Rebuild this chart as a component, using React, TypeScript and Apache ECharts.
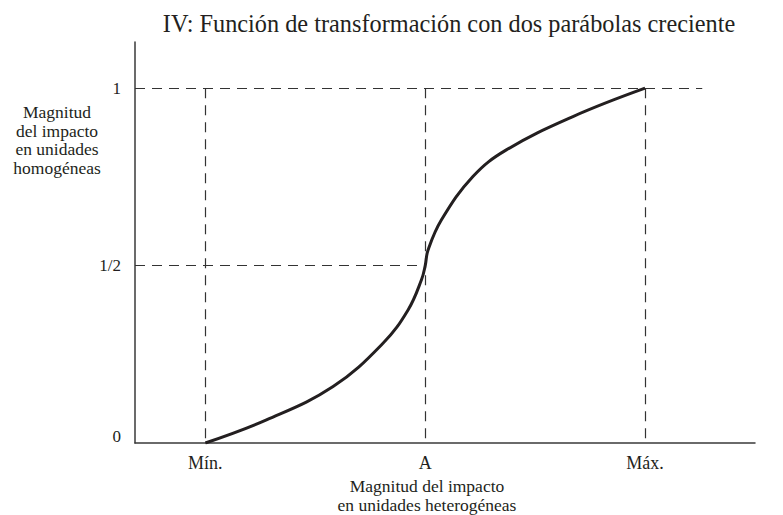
import React, { useEffect, useRef } from "react";
import * as echarts from "echarts";

// Positions on the horizontal axis: Mín. = 0, A = 1, Máx. = 2
const xTickValues = [0, 1, 2];
const xTickLabels = ["Mín.", "A", "Máx."];
const yTickValues = [0, 0.5, 1];
const yTickLabels = ["0", "1/2", "1"];

// Curve (two parabolas meeting at A, 1/2)
const curveX = [0, 0.278, 0.581, 0.808, 0.922, 0.983, 1.0, 1.013, 1.074, 1.217, 1.369, 1.672, 2.0];
const curveY = [0, 0.065, 0.159, 0.281, 0.375, 0.46, 0.5, 0.544, 0.629, 0.751, 0.826, 0.92, 1.0];

const titleText = "IV: Función de transformación con dos parábolas creciente";
const yNameText = "Magnitud\ndel impacto\nen unidades\nhomogéneas";
const xNameText = "Magnitud del impacto\nen unidades heterogéneas";

const X_MIN = -0.32;
const X_MAX = 2.5;
const Y_MAX = 1.13;
const TOP_LINE_END = 2.26;

const FONT = "'Liberation Serif', 'Times New Roman', serif";
const INK = "#231f20";

export default function App() {
  const ref = useRef<HTMLDivElement>(null);
  useEffect(() => {
    if (!ref.current) return;
    const chart = echarts.init(ref.current, null, { renderer: "svg" });
    const dashStyle = { color: "#333", width: 1.2, type: [10, 7] as any };
    const option: any = {
      animation: false,
      backgroundColor: "#fff",
      textStyle: { fontFamily: FONT, color: INK },
      grid: { left: 135, right: 28, top: 42, bottom: 72 },
      xAxis: {
        type: "value",
        min: X_MIN,
        max: X_MAX,
        axisLine: { show: true, onZero: false, lineStyle: { color: "#3a3a3a", width: 1.5 } },
        axisTick: { show: false },
        splitLine: { show: false },
        axisLabel: {
          customValues: xTickValues,
          formatter: (v: number) => {
            const i = xTickValues.findIndex((t) => Math.abs(t - v) < 1e-6);
            return i >= 0 ? xTickLabels[i] : "";
          },
          fontFamily: FONT,
          fontSize: 18,
          color: INK,
          margin: 11,
        },
      },
      yAxis: {
        type: "value",
        min: 0,
        max: Y_MAX,
        axisLine: { show: true, onZero: false, lineStyle: { color: "#3a3a3a", width: 1.5 } },
        axisTick: { show: false },
        splitLine: { show: false },
        axisLabel: {
          customValues: yTickValues,
          formatter: (v: number) => {
            const i = yTickValues.findIndex((t) => Math.abs(t - v) < 1e-6);
            if (i < 0) return "";
            return i === 0 ? "{z|" + yTickLabels[i] + "}" : yTickLabels[i];
          },
          rich: { z: { padding: [0, 0, 14, 0], fontFamily: FONT, fontSize: 17, color: INK } },
          fontFamily: FONT,
          fontSize: 17,
          color: INK,
          margin: 14,
        },
      },
      series: [
        {
          type: "line",
          data: [],
          silent: true,
          markLine: {
            silent: true,
            symbol: "none",
            label: { show: false },
            lineStyle: dashStyle,
            data: [
              [{ coord: [X_MIN, yTickValues[2]] }, { coord: [TOP_LINE_END, yTickValues[2]] }],
              [{ coord: [X_MIN, yTickValues[1]] }, { coord: [xTickValues[1], yTickValues[1]] }],
              [{ coord: [xTickValues[0], yTickValues[2]] }, { coord: [xTickValues[0], yTickValues[0]] }],
              [{ coord: [xTickValues[1], yTickValues[2]] }, { coord: [xTickValues[1], yTickValues[0]] }],
              [{ coord: [xTickValues[2], yTickValues[2]] }, { coord: [xTickValues[2], yTickValues[0]] }],
            ],
          },
        },
        {
          type: "line",
          data: curveX.map((x, i) => [x, curveY[i]]),
          smooth: 0.4,
          showSymbol: false,
          symbol: "none",
          lineStyle: { color: INK, width: 3 },
          z: 5,
        },
      ],
      graphic: [
        {
          type: "text",
          x: 449,
          y: 23,
          style: {
            text: titleText,
            fontFamily: FONT,
            fontSize: 24.3,
            fill: INK,
            textAlign: "center",
            textVerticalAlign: "middle",
          },
        },
        {
          type: "text",
          x: 57,
          y: 103,
          style: {
            text: yNameText,
            fontFamily: FONT,
            fontSize: 17.5,
            lineHeight: 18.5,
            fill: INK,
            textAlign: "center",
            textVerticalAlign: "top",
          },
        },
        {
          type: "text",
          x: 427,
          y: 477,
          style: {
            text: xNameText,
            fontFamily: FONT,
            fontSize: 17.5,
            lineHeight: 18.5,
            fill: INK,
            textAlign: "center",
            textVerticalAlign: "top",
          },
        },
      ],
    };
    chart.setOption(option);
    return () => chart.dispose();
  }, []);
  return <div ref={ref} style={{ width: 783, height: 515, position: "absolute", left: 0, top: 0 }} />;
}
